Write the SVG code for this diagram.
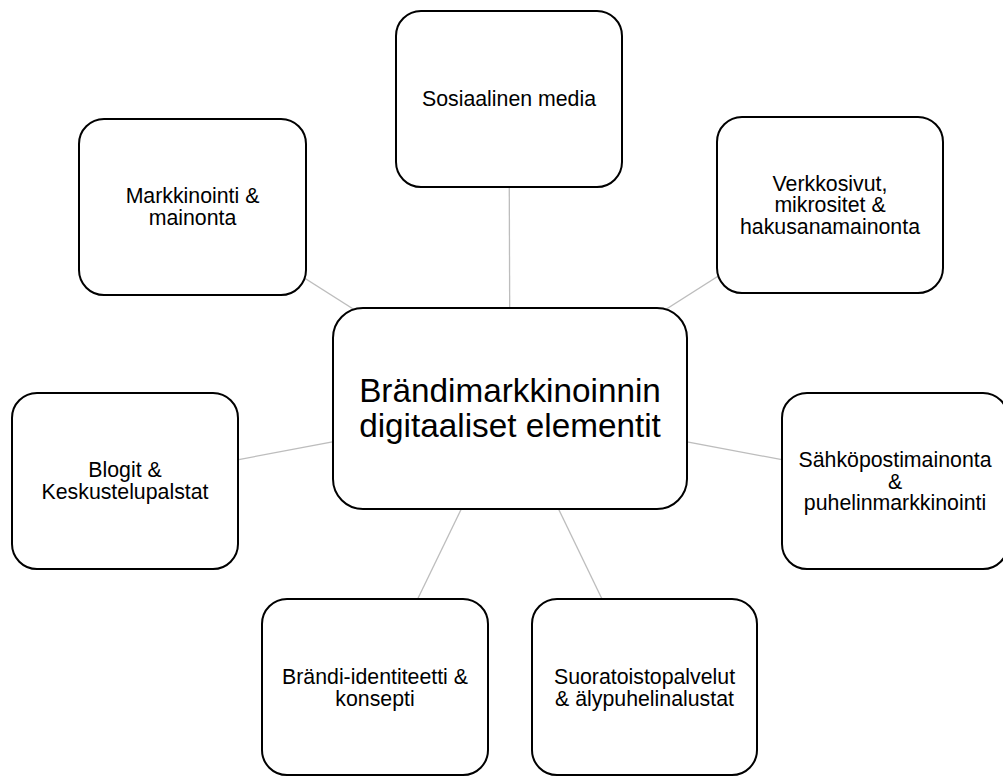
<svg xmlns="http://www.w3.org/2000/svg" width="1003" height="779" viewBox="0 0 1003 779">
  <style>
    .box { fill: #ffffff; stroke: #000000; stroke-width: 2; }
    .lbl { font-family: "Liberation Sans", Arial, sans-serif; font-size: 21.3px; fill: #000000; text-anchor: middle; }
    .big { font-size: 33.3px; }
    .conn { stroke: #bdbdbd; stroke-width: 1.3; fill: none; }
  </style>
  <rect width="1003" height="779" fill="#ffffff"/>
  <g id="connectors">
    <line class="conn" x1="510" y1="408.5" x2="509" y2="99"/>
    <line class="conn" x1="510" y1="408.5" x2="192.5" y2="207"/>
    <line class="conn" x1="510" y1="408.5" x2="830" y2="205"/>
    <line class="conn" x1="510" y1="408.5" x2="125" y2="481"/>
    <line class="conn" x1="510" y1="408.5" x2="895" y2="481"/>
    <line class="conn" x1="510" y1="408.5" x2="375" y2="687"/>
    <line class="conn" x1="510" y1="408.5" x2="644.5" y2="687"/>
  </g>
  <g id="node-center">
    <rect class="box" x="333" y="308" width="354" height="201" rx="30" ry="30"/>
    <text class="lbl big" x="510" y="402">Brändimarkkinoinnin</text>
    <text class="lbl big" x="510" y="437">digitaaliset elementit</text>
  </g>
  <g id="node-sosiaalinen">
    <rect class="box" x="396" y="11" width="226" height="176" rx="25" ry="25"/>
    <text class="lbl" x="509" y="106">Sosiaalinen media</text>
  </g>
  <g id="node-markkinointi">
    <rect class="box" x="79" y="119" width="227" height="176" rx="25" ry="25"/>
    <text class="lbl" x="192.5" y="203">Markkinointi &amp;</text>
    <text class="lbl" x="192.5" y="224.5">mainonta</text>
  </g>
  <g id="node-verkkosivut">
    <rect class="box" x="717" y="117" width="226" height="176" rx="25" ry="25"/>
    <text class="lbl" x="830" y="190.5">Verkkosivut,</text>
    <text class="lbl" x="830" y="212">mikrositet &amp;</text>
    <text class="lbl" x="830" y="233.5">hakusanamainonta</text>
  </g>
  <g id="node-blogit">
    <rect class="box" x="12" y="393" width="226" height="176" rx="25" ry="25"/>
    <text class="lbl" x="125" y="477">Blogit &amp;</text>
    <text class="lbl" x="125" y="498.5">Keskustelupalstat</text>
  </g>
  <g id="node-sahkoposti">
    <rect class="box" x="782" y="393" width="226" height="176" rx="25" ry="25"/>
    <text class="lbl" x="895" y="467">Sähköpostimainonta</text>
    <text class="lbl" x="895" y="488.5">&amp;</text>
    <text class="lbl" x="895" y="510">puhelinmarkkinointi</text>
  </g>
  <g id="node-brandi">
    <rect class="box" x="262" y="599" width="226" height="176" rx="25" ry="25"/>
    <text class="lbl" x="375" y="684">Brändi-identiteetti &amp;</text>
    <text class="lbl" x="375" y="705.5">konsepti</text>
  </g>
  <g id="node-suoratoisto">
    <rect class="box" x="532" y="599" width="225" height="176" rx="25" ry="25"/>
    <text class="lbl" x="644.5" y="684">Suoratoistopalvelut</text>
    <text class="lbl" x="644.5" y="705.5">&amp; älypuhelinalustat</text>
  </g>
</svg>
